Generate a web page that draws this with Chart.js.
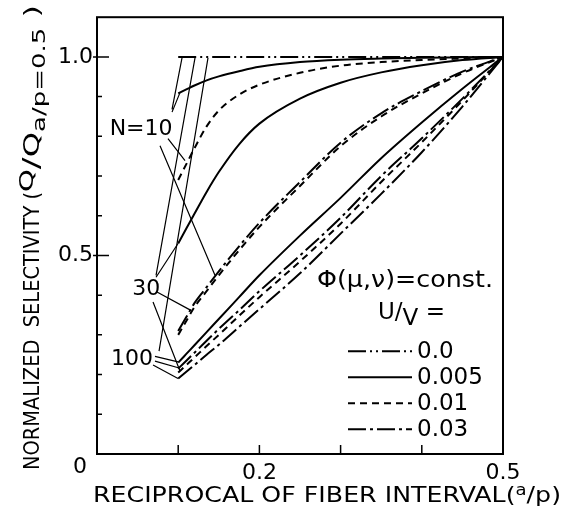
<!DOCTYPE html>
<html>
<head>
<meta charset="utf-8">
<script src="https://cdn.jsdelivr.net/npm/chart.js@4.4.0/dist/chart.umd.min.js"></script>
<style>
    html, body { margin: 0; padding: 0; background: #fff; }
</style>
</head>
<body>
<canvas id="selectivity_chart" width="582" height="527"></canvas>
<script>
// reciprocal of fiber interval a/p, where the curves were read
const aOverP = [0.1, 0.11, 0.12, 0.135, 0.15, 0.175, 0.2, 0.25, 0.3, 0.35, 0.4, 0.45, 0.5];

// normalized selectivity Q / Q(a/p=0.5)
// U/V = 0.0 (same line for N = 10, 30, 100)
const qFlat = [1.0, 1.0, 1.0, 1.0, 1.0, 1.0, 1.0, 1.0, 1.0, 1.0, 1.0, 1.0, 1.0];
// N = 10
const qN10_005 = [0.908, 0.918, 0.928, 0.941, 0.951, 0.964, 0.975, 0.987, 0.993, 0.996, 0.998, 0.999, 1.0];
const qN10_01 = [0.69, 0.73, 0.77, 0.825, 0.865, 0.905, 0.93, 0.96, 0.978, 0.987, 0.992, 0.996, 1.0];
const qN10_03 = [0.31, 0.345, 0.38, 0.42, 0.46, 0.523, 0.582, 0.685, 0.784, 0.858, 0.914, 0.963, 1.0];
// N = 30
const qN30_005 = [0.53, 0.568, 0.605, 0.66, 0.71, 0.78, 0.832, 0.895, 0.935, 0.961, 0.979, 0.992, 1.0];
const qN30_01 = [0.3, 0.335, 0.37, 0.41, 0.45, 0.513, 0.572, 0.675, 0.775, 0.85, 0.908, 0.959, 1.0];
const qN30_03 = [0.215, 0.235, 0.255, 0.285, 0.315, 0.362, 0.41, 0.5, 0.595, 0.7, 0.795, 0.895, 1.0];
// N = 100
const qN100_005 = [0.23, 0.252, 0.274, 0.307, 0.34, 0.395, 0.45, 0.55, 0.645, 0.745, 0.835, 0.92, 1.0];
const qN100_01 = [0.205, 0.224, 0.243, 0.272, 0.3, 0.348, 0.395, 0.485, 0.58, 0.685, 0.785, 0.89, 1.0];
const qN100_03 = [0.19, 0.207, 0.224, 0.25, 0.275, 0.32, 0.365, 0.455, 0.555, 0.655, 0.76, 0.875, 1.0];

// legend entries (U/V values)
const uvLabels = ["0.0", "0.005", "0.01", "0.03"];

// leader lines from the N labels to the curves, [x, q] pairs
const leadersN10 = [[0.0924, 0.868], [0.1047, 0.9975], null, [0.0924, 0.861], [0.1022, 0.91], null,
    [0.0874, 0.794], [0.1084, 0.739], null, [0.0776, 0.776], [0.1453, 0.45]];
const leadersN30 = [[0.0727, 0.45], [0.1207, 0.9975], null, [0.0739, 0.408], [0.1145, 0.363], null,
    [0.069, 0.383], [0.1022, 0.209], null, [0.0727, 0.445], [0.0998, 0.53]];
const leadersN100 = [[0.0764, 0.259], [0.1367, 0.9975], null, [0.0714, 0.246], [0.0998, 0.232], null,
    [0.0714, 0.234], [0.1022, 0.216], null, [0.069, 0.224], [0.0998, 0.19]];
const nLabels = [["N=10", 0.093, 0.818], ["30", 0.078, 0.415], ["100", 0.069, 0.239]];

const FONT = "'DejaVu Sans', sans-serif";
const dashes = {
    "0.0": [18, 4, 2, 4, 2, 4],
    "0.005": [],
    "0.01": [7, 5],
    "0.03": [18, 4, 3, 4],
};

function curve(label, q, uv) {
    return {
        label: label,
        data: q.map((v, i) => ({ x: aOverP[i], y: v })),
        borderColor: "#000",
        borderWidth: 2,
        borderDash: dashes[uv],
        pointRadius: 0,
        cubicInterpolationMode: "monotone",
        fill: false,
    };
}

function leader(label, pts) {
    return {
        label: label,
        data: pts.map((p) => (p ? { x: p[0], y: p[1] } : { x: null, y: null })),
        borderColor: "#000",
        borderWidth: 1.2,
        pointRadius: 0,
        spanGaps: false,
        fill: false,
    };
}

// draws text pieces one after another; stretched to 'width' if given
function drawRuns(ctx, runs, x, y, width) {
    let total = 0;
    runs.forEach((r) => {
        ctx.font = r.size + "px " + FONT;
        r.w = ctx.measureText(r.t).width;
        total += r.w;
    });
    const sx = width ? width / total : 1;
    ctx.save();
    ctx.translate(x, y);
    ctx.scale(sx, 1);
    let cx = 0;
    runs.forEach((r) => {
        ctx.font = r.size + "px " + FONT;
        ctx.fillText(r.t, cx, r.dy || 0);
        cx += r.w;
    });
    ctx.restore();
    return total * sx;
}

const decorations = {
    id: "decorations",
    afterDatasetsDraw(chart) {
        const { ctx, chartArea: a, scales } = chart;
        const x = scales.x;
        const y = scales.y;
        ctx.save();
        ctx.strokeStyle = "#000";
        ctx.fillStyle = "#000";

        // frame
        ctx.lineWidth = 2;
        ctx.strokeRect(a.left, a.top, a.right - a.left, a.bottom - a.top);

        // inward ticks
        ctx.lineWidth = 1.5;
        ctx.beginPath();
        for (let i = 1; i <= 10; i++) {
            const py = y.getPixelForValue(i / 10);
            const major = i === 5 || i === 10;
            ctx.moveTo(a.left - (major ? 4 : 0), py);
            ctx.lineTo(a.left + (major ? 12 : 5), py);
        }
        for (let i = 1; i <= 4; i++) {
            const px = x.getPixelForValue(i / 10);
            ctx.moveTo(px, a.bottom);
            ctx.lineTo(px, a.bottom - 9);
        }
        ctx.stroke();

        // N labels
        ctx.textAlign = "right";
        ctx.textBaseline = "middle";
        ctx.font = "22px " + FONT;
        nLabels.forEach(([t, vx, vy]) => {
            ctx.fillText(t, x.getPixelForValue(vx), y.getPixelForValue(vy));
        });

        // corner zero
        ctx.textAlign = "center";
        ctx.fillText("0", a.left - 17, a.bottom + 13);

        // legend block
        ctx.textAlign = "left";
        ctx.textBaseline = "alphabetic";
        drawRuns(ctx, [{ t: "\u03A6(\u03BC,\u03BD)=const.", size: 23 }], a.left + 220, a.top + 270, 176);
        drawRuns(ctx, [
            { t: "U/", size: 23 },
            { t: "V", size: 23, dy: 6 },
            { t: " =", size: 23 },
        ], a.left + 281, a.top + 302);
        ctx.textBaseline = "middle";
        uvLabels.forEach((t, i) => {
            const py = a.top + 334 + i * 26;
            ctx.lineWidth = 2;
            ctx.setLineDash(dashes[t]);
            ctx.beginPath();
            ctx.moveTo(a.left + 251, py);
            ctx.lineTo(a.left + 315, py);
            ctx.stroke();
            ctx.setLineDash([]);
            ctx.font = "23px " + FONT;
            ctx.fillText(t, a.left + 320, py + 1);
        });

        // x axis title
        ctx.textBaseline = "alphabetic";
        drawRuns(ctx, [
            { t: "RECIPROCAL OF FIBER INTERVAL(", size: 21 },
            { t: "a", size: 15, dy: -7 },
            { t: "/p)", size: 21 },
        ], 93, 502, 468);

        // y axis title (rotated)
        ctx.translate(39, 470);
        ctx.rotate(-Math.PI / 2);
        const w = drawRuns(ctx, [{ t: "NORMALIZED  SELECTIVITY (", size: 21 }], 0, 0, 278);
        drawRuns(ctx, [
            { t: "Q", size: 19, dy: -6 },
            { t: "/", size: 23 },
            { t: "Q", size: 21 },
            { t: "a/p=0.5", size: 17, dy: 6 },
            { t: " )", size: 21 },
        ], w, 0, 465 - w);
        ctx.restore();
    },
};

new Chart(document.getElementById("selectivity_chart"), {
    type: "line",
    data: {
        datasets: [
            curve("N=10,30,100  U/V=0.0", qFlat, "0.0"),
            curve("N=10  U/V=0.005", qN10_005, "0.005"),
            curve("N=10  U/V=0.01", qN10_01, "0.01"),
            curve("N=10  U/V=0.03", qN10_03, "0.03"),
            curve("N=30  U/V=0.005", qN30_005, "0.005"),
            curve("N=30  U/V=0.01", qN30_01, "0.01"),
            curve("N=30  U/V=0.03", qN30_03, "0.03"),
            curve("N=100  U/V=0.005", qN100_005, "0.005"),
            curve("N=100  U/V=0.01", qN100_01, "0.01"),
            curve("N=100  U/V=0.03", qN100_03, "0.03"),
            leader("N=10 leaders", leadersN10),
            leader("N=30 leaders", leadersN30),
            leader("N=100 leaders", leadersN100),
        ],
    },
    options: {
        responsive: false,
        animation: false,
        devicePixelRatio: 1,
        layout: { padding: { top: 12, right: 79, left: 0, bottom: 0 } },
        plugins: {
            legend: { display: false },
            tooltip: { enabled: false },
        },
        scales: {
            x: {
                type: "linear",
                min: 0,
                max: 0.5,
                grid: { display: false, drawTicks: false },
                border: { display: false },
                ticks: {
                    stepSize: 0.1,
                    autoSkip: false,
                    maxRotation: 0,
                    padding: 6,
                    color: "#000",
                    font: { family: FONT, size: 22 },
                    callback: (v) => (Math.abs(v - 0.2) < 1e-6 ? "0.2" : Math.abs(v - 0.5) < 1e-6 ? "0.5" : ""),
                },
                afterFit: (scale) => {
                    scale.height = 73;
                },
            },
            y: {
                min: 0,
                max: 1.1,
                grid: { display: false, drawTicks: false },
                border: { display: false },
                ticks: {
                    stepSize: 0.1,
                    autoSkip: false,
                    padding: 4,
                    color: "#000",
                    font: { family: FONT, size: 22 },
                    callback: (v) => (Math.abs(v - 1) < 1e-6 ? "1.0" : Math.abs(v - 0.5) < 1e-6 ? "0.5" : ""),
                },
                afterFit: (scale) => {
                    scale.width = 97;
                },
            },
        },
    },
    plugins: [decorations],
});
</script>
</body>
</html>
